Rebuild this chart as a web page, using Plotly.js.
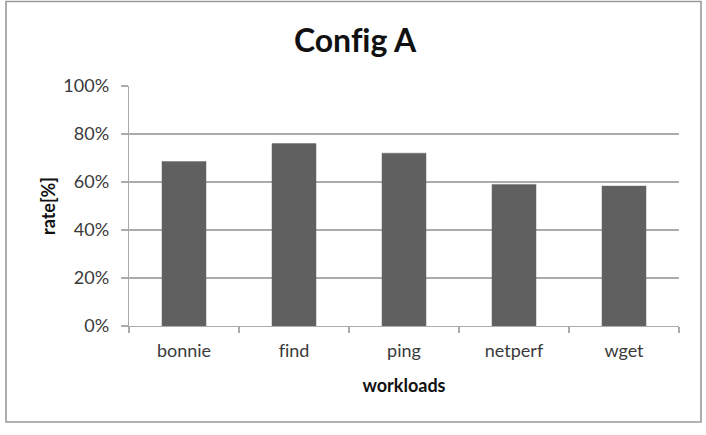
<!DOCTYPE html>
<html>
<head>
<meta charset="utf-8">
<script src="https://cdn.plot.ly/plotly-3.0.1.min.js"></script>
<style>
  html, body { margin: 0; padding: 0; background: #ffffff; }
  #chart { width: 706px; height: 435px; }
  #chart text { font-variant-ligatures: none; font-feature-settings: "liga" 0, "clig" 0; }
</style>
</head>
<body>
<div id="chart"></div>
<script>
// Data
const workloads = ["bonnie", "find", "ping", "netperf", "wget"];
const rates = [0.685, 0.76, 0.72, 0.59, 0.583];
const yTickValues = [0, 0.2, 0.4, 0.6, 0.8, 1.0];
const yTickLabels = ["0%", "20%", "40%", "60%", "80%", "100%"];

const FONT = "Lato, 'Open Sans', 'Liberation Sans', sans-serif";
const gridCol = "#ababab";

const trace = {
  type: "bar",
  x: workloads,
  y: rates,
  marker: { color: "#606060", line: { color: "#6a6a6a", width: 0.5 } },
  hoverinfo: "x+y"
};

const layout = {
  width: 706,
  height: 435,
  margin: { l: 129, r: 27, t: 86, b: 109 },
  paper_bgcolor: "#ffffff",
  plot_bgcolor: "#ffffff",
  font: { family: FONT, color: "#3a3a3a", size: 18 },
  showlegend: false,
  bargap: 0.6,
  title: {
    text: "<b>Config A</b>",
    font: { family: FONT, size: 32, color: "#111111" },
    x: 0.503, xref: "container", xanchor: "center",
    y: 1 - 41 / 435, yref: "container", yanchor: "middle"
  },
  xaxis: {
    type: "category",
    showline: true, linecolor: gridCol, linewidth: 1.3,
    ticks: "outside", tickson: "boundaries", ticklen: 6, tickcolor: gridCol, tickwidth: 1.3,
    showgrid: false, zeroline: false,
    ticklabelstandoff: 8,
    tickfont: { family: FONT, size: 18, color: "#3a3a3a" },
    title: { text: "<b>workloads</b>", font: { family: FONT, size: 18, color: "#111111" }, standoff: 19 },
    fixedrange: true
  },
  yaxis: {
    range: [0, 1],
    tickvals: yTickValues,
    ticktext: yTickLabels,
    showline: true, linecolor: gridCol, linewidth: 1.3,
    ticks: "outside", ticklen: 7, tickcolor: gridCol, tickwidth: 1.3,
    showgrid: true, gridcolor: gridCol, gridwidth: 1.3,
    zeroline: false,
    ticklabelstandoff: 8,
    tickfont: { family: FONT, size: 18, color: "#3a3a3a" },
    title: { text: "<b>rate[%]</b>", font: { family: FONT, size: 18, color: "#111111" }, standoff: 3 },
    fixedrange: true
  },
  shapes: [{
    type: "rect", xref: "paper", yref: "paper",
    x0: (6 - 129) / 550, x1: (701 - 129) / 550,
    y0: (326 - 422) / 240, y1: (326 - 1.5) / 240,
    line: { color: "#9a9a9a", width: 1.6 },
    fillcolor: "rgba(0,0,0,0)",
    layer: "below"
  }]
};

Plotly.newPlot("chart", [trace], layout, { displayModeBar: false, staticPlot: true });
</script>
</body>
</html>
